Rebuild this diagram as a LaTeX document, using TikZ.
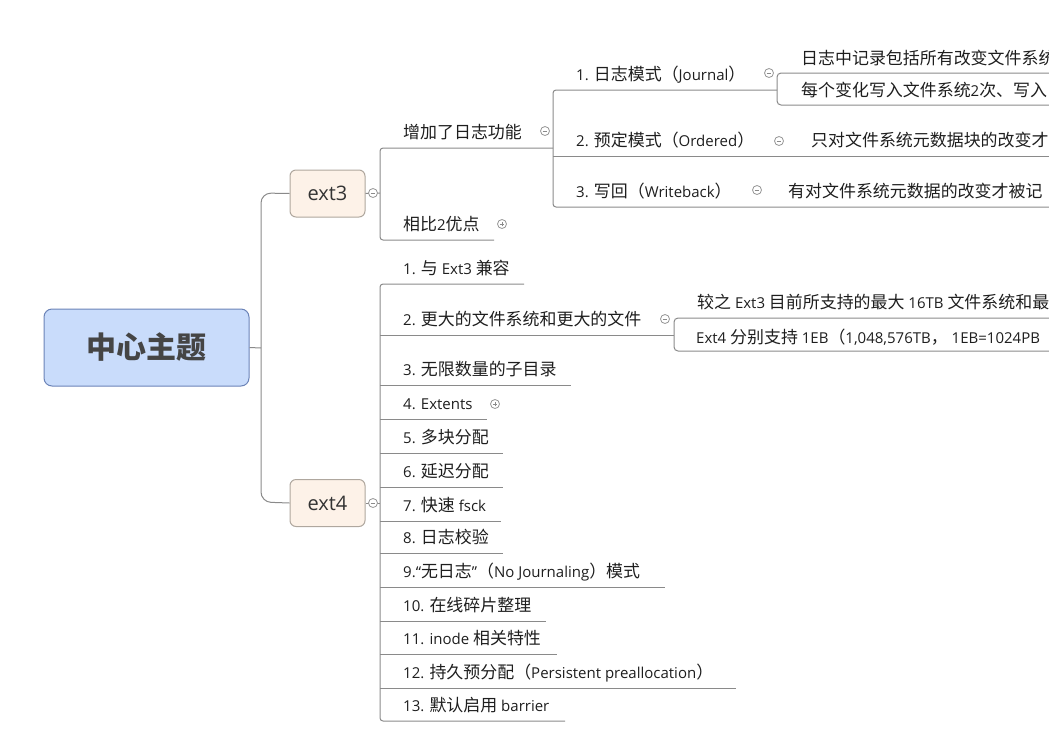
\documentclass[tikz,border=0pt]{standalone}
\usepackage{fontspec}
\setmainfont{Open Sans}
\newfontfamily\cjkf[Scale=1.13]{Noto Sans CJK SC}
\newfontfamily\cjkroot{Noto Sans CJK SC}
\newcommand\C[1]{{\cjkf #1}}
\definecolor{lnc}{HTML}{8A8A8A}
\definecolor{rootfill}{HTML}{C9DCFB}
\definecolor{rootdraw}{HTML}{6B83B7}
\definecolor{subfill}{HTML}{FDF2E8}
\definecolor{subdraw}{HTML}{AFA79E}
\definecolor{txc}{HTML}{1E1E1E}
\definecolor{roottxt}{HTML}{454545}
\tikzset{
  ln/.style={draw=lnc, line width=1pt},
  tx/.style={anchor=base west, inner sep=0pt, text=txc, font=\fontsize{15}{18}\selectfont},
  rootbox/.style={draw=rootdraw, fill=rootfill, rounded corners=8pt, line width=1pt,
     minimum width=205pt, minimum height=77pt, inner sep=0pt, text=roottxt,
     font=\cjkroot\bfseries\fontsize{30}{34}\selectfont},
  subbox/.style={draw=subdraw, fill=subfill, rounded corners=6pt, line width=1pt,
     minimum width=75pt, minimum height=47pt, inner sep=0pt, text=black!80,
     font=\fontsize{20}{24}\selectfont},
  colminus/.pic={\draw[draw=lnc!90, fill=white, line width=0.8pt] (0,0) circle (4.5pt);
     \draw[lnc, line width=0.8pt] (-2.3pt,0) -- (2.3pt,0);},
  colplus/.pic={\draw[draw=lnc!90, fill=white, line width=0.8pt] (0,0) circle (4.5pt);
     \draw[lnc, line width=0.8pt] (-2.3pt,0) -- (2.3pt,0) (0,-2.3pt) -- (0,2.3pt);}
}
\begin{document}
\begin{tikzpicture}[x=1pt, y=-1pt]
\path[use as bounding box] (0,0) rectangle (1049,737);
\clip (0,0) rectangle (1049,737);

% ---- nodes
\node[rootbox] (root) at (146.5,347.5) {中心主题};
\node[subbox] (ext3) at (327.5,193.5) {ext3};
\node[subbox] (ext4) at (327.5,503) {ext4};

% spine coordinates
\coordinate (s3) at (380,193);
\coordinate (s4) at (380,503);

% ---- main connectors
\draw[ln] (root.east) -- (261,348);
\draw[ln, rounded corners=10pt] (ext3.west) -- (261,193) -- (261,502) -- (ext4.west);
\draw[ln] (ext3.east) -- (s3);
\draw[ln] (ext4.east) -- (s4);

% ---- ext3 children
\node[tx] (j) at (403,138) {\C{增加了日志功能}};
\node[tx] (adv) at (403,230) {\C{相比}2\C{优点}};
\draw[ln, rounded corners=3pt] (553,148) -- (380,148) -- (380,240) -- (494,240);

% ---- journal children
\node[tx] (j1) at (576,80) {1. \C{日志模式（}Journal\C{）}};
\node[tx] (j2) at (576,146) {2. \C{预定模式（}Ordered\C{）}};
\node[tx] (j3) at (576,197) {3. \C{写回（}Writeback\C{）}};
\draw[ln, rounded corners=3pt] (777,90) -- (553,90) -- (553,207) -- (1070,207);
\draw[ln] (553,156) -- (1070,156);

\node[tx] (j1a) at (801,64) {\C{日志中记录包括所有改变文件系统}};
\node[tx] (j1b) at (801,96) {\C{每个变化写入文件系统}2\C{次、写入}};
\draw[ln, rounded corners=4pt] (1070,73) -- (777,73) -- (777,105) -- (1070,105);
\node[tx] (j2a) at (811,146) {\C{只对文件系统元数据块的改变才}};
\node[tx] (j3a) at (788,197) {\C{有对文件系统元数据的改变才被记}};

% ---- ext4 children
\node[tx] (e1) at (403,274) {1. \C{与} Ext3 \C{兼容}};
\node[tx] (e2) at (403,325) {2. \C{更大的文件系统和更大的文件}};
\node[tx] (e3) at (403,375) {3. \C{无限数量的子目录}};
\node[tx] (e4) at (403,409) {4. Extents};
\node[tx] (e5) at (403,443) {5. \C{多块分配}};
\node[tx] (e6) at (403,477) {6. \C{延迟分配}};
\node[tx] (e7) at (403,511) {7. \C{快速} fsck};
\node[tx] (e8) at (403,543) {8. \C{日志校验}};
\node[tx] (e9) at (403,577) {9.“\C{无日志}”\C{（}No Journaling\C{）模式}};
\node[tx] (e10) at (403,611) {10. \C{在线碎片整理}};
\node[tx] (e11) at (403,644) {11. inode \C{相关特性}};
\node[tx] (e12) at (403,678) {12. \C{持久预分配（}Persistent preallocation\C{）}};
\node[tx] (e13) at (403,711) {13. \C{默认启用} barrier};

\draw[ln, rounded corners=3pt] (524,284) -- (380,284) -- (380,721) -- (565,721);
\draw[ln] (380,335) -- (674,335);
\draw[ln] (380,385) -- (571,385);
\draw[ln] (380,419) -- (487,419);
\draw[ln] (380,453) -- (503,453);
\draw[ln] (380,487) -- (503,487);
\draw[ln] (380,521) -- (501,521);
\draw[ln] (380,553) -- (503,553);
\draw[ln] (380,587) -- (665,587);
\draw[ln] (380,621) -- (546,621);
\draw[ln] (380,654) -- (557,654);
\draw[ln] (380,688) -- (736,688);

% 2. children box
\node[tx] (e2a) at (697,308) {\C{较之} Ext3 \C{目前所支持的最大} 16TB \C{文件系统和最}};
\node[tx] (e2b) at (696,343) {Ext4 \C{分别支持} 1EB\C{（}1,048,576TB\C{，} 1EB=1024PB};
\draw[ln, rounded corners=4pt] (1070,318) -- (674,318) -- (674,351) -- (1070,351);

% ---- collapse / expand markers
\pic at (373,193) {colminus};
\pic at (373,503) {colminus};
\pic at (545,131) {colminus};
\pic at (502,224) {colplus};
\pic at (769,73) {colminus};
\pic at (779,141) {colminus};
\pic at (757,190) {colminus};
\pic at (665,319) {colminus};
\pic at (495,404) {colplus};
\end{tikzpicture}
\end{document}
